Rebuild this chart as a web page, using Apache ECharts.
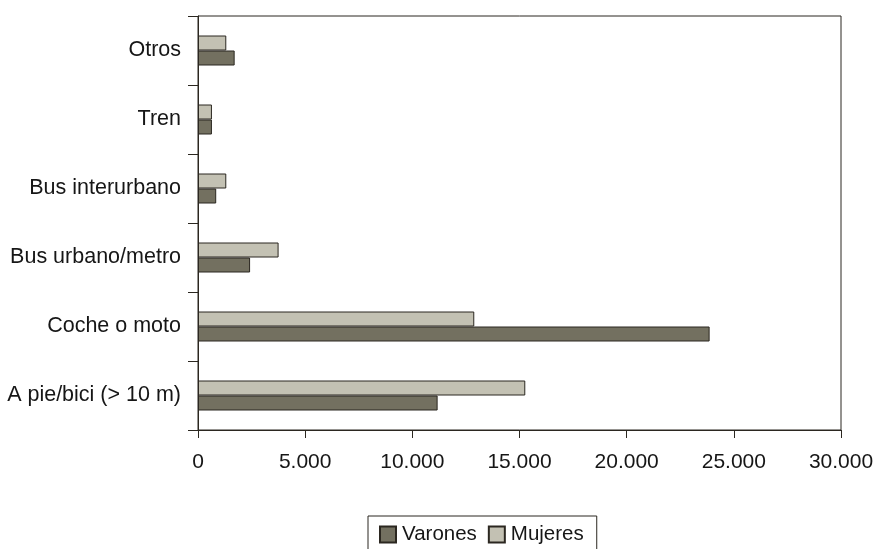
<!DOCTYPE html>
<html><head><meta charset="utf-8">
<script src="https://cdn.jsdelivr.net/npm/echarts@6/dist/echarts.min.js"></script>
<style>html,body{margin:0;padding:0;background:#fff}#c{width:878px;height:549px}</style>
</head><body><div id="c"></div>
<script>
const categories = ['A pie/bici (> 10 m)', 'Coche o moto', 'Bus urbano/metro', 'Bus interurbano', 'Tren', 'Otros'];
const varones = [11180, 23870, 2430, 850, 650, 1710];
const mujeres = [15270, 12890, 3760, 1320, 650, 1320];
const xTicks = [0, 5000, 10000, 15000, 20000, 25000, 30000];

const fmt = v => String(v).replace(/\B(?=(\d{3})+(?!\d))/g, '.');
const chart = echarts.init(document.getElementById('c'));
const dark = '#2b2720';
const font = 'Liberation Sans, Arial, sans-serif';
chart.setOption({
  animation: false,
  grid: {left: 198, right: 37, top: 16, bottom: 119, show: true, borderColor: dark, borderWidth: 1},
  legend: {
    data: ['Varones', 'Mujeres'], top: 516, left: 368,
    borderColor: dark, borderWidth: 1, padding: [8, 13, 14, 11],
    icon: 'rect', itemWidth: 16, itemHeight: 16, itemGap: 11,
    textStyle: {fontFamily: font, fontSize: 20.5, color: '#161616', padding: [0, 0, 0, 1]}
  },
  xAxis: {
    type: 'value', min: 0, max: 30000, interval: 5000,
    axisLine: {show: true, lineStyle: {color: dark}},
    axisTick: {show: true, length: 8, lineStyle: {color: dark}},
    splitLine: {show: false},
    axisLabel: {fontFamily: font, fontSize: 21, color: '#161616', margin: 22, formatter: v => fmt(v)}
  },
  yAxis: {
    type: 'category', data: categories,
    axisLine: {show: true, lineStyle: {color: dark}},
    axisTick: {show: true, length: 10, lineStyle: {color: dark}},
    axisLabel: {fontFamily: font, fontSize: 21.5, color: '#161616', margin: 17}
  },
  series: [
    {name: 'Mujeres', type: 'bar', data: mujeres, barWidth: 15, barGap: '0%',
     itemStyle: {color: '#c3c1b3', borderColor: dark, borderWidth: 1}},
    {name: 'Varones', type: 'bar', data: varones, barWidth: 15, barGap: '0%',
     itemStyle: {color: '#737060', borderColor: dark, borderWidth: 1}}
  ]
});
</script></body></html>
